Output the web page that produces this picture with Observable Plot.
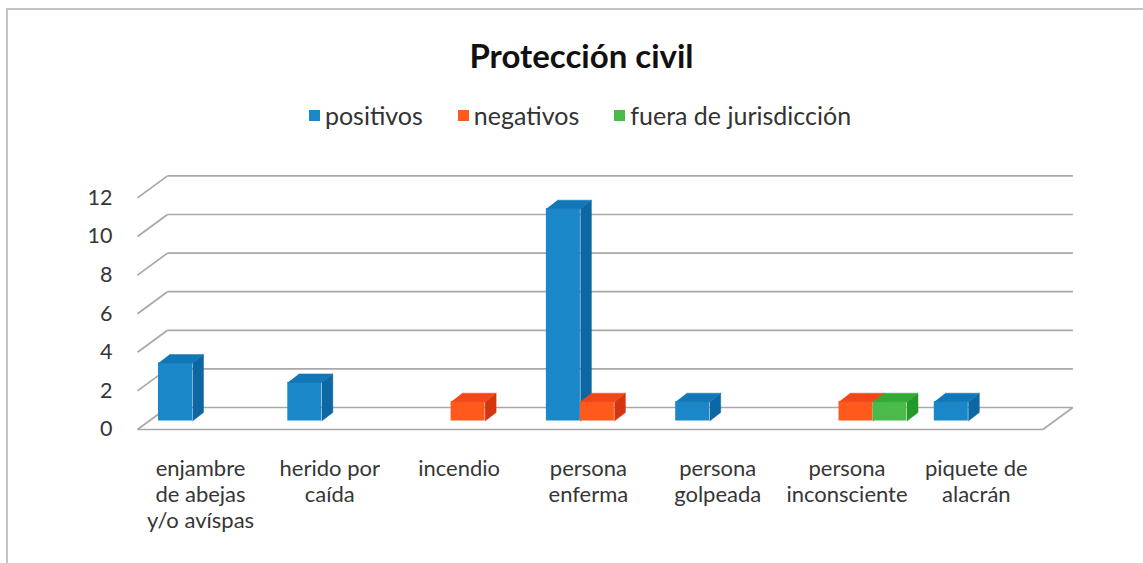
<!DOCTYPE html>
<html>
<head>
<meta charset="utf-8">
<script src="https://cdn.jsdelivr.net/npm/d3@7"></script>
<script src="https://cdn.jsdelivr.net/npm/@observablehq/plot@0.6"></script>
<style>
  html, body { margin: 0; padding: 0; background: #fff; }
  #wrap { position: relative; width: 1143px; height: 563px; overflow: hidden; background: #fff; font-family: Lato, "Open Sans", sans-serif; }
  #frame { position: absolute; left: 6px; top: 8px; width: 1200px; height: 600px; border-left: 2px solid #c4c4c4; border-top: 2px solid #c4c4c4; }
  #title { position: absolute; left: 0; width: 1163px; top: 33px; text-align: center; font-size: 33px; font-weight: bold; color: #111; line-height: 44px; }
  #legend { position: absolute; left: 0; width: 1160px; top: 100px; display: flex; justify-content: center; gap: 35px; font-size: 25px; color: #333; line-height: 30px; }
  #legend .item { display: flex; align-items: center; gap: 5px; }
  #legend .sw { width: 11px; height: 11px; display: inline-block; }
  #chart { position: absolute; left: 0; top: 150px; }
</style>
</head>
<body>
<div id="wrap">
  <div id="frame"></div>
  <div id="title">Protección civil</div>
  <div id="legend"></div>
  <div id="chart"></div>
</div>
<script>
// ---- data ----
const categories = ["enjambre\nde abejas\ny/o avíspas", "herido por\ncaída", "incendio", "persona\nenferma", "persona\ngolpeada", "persona\ninconsciente", "piquete de\nalacrán"];
const seriesNames = ["positivos", "negativos", "fuera de jurisdicción"];
const positivos = [3, 2, 0, 11, 1, 0, 1];
const negativos = [0, 0, 1, 1, 0, 1, 0];
const fueraDeJurisdiccion = [0, 0, 0, 0, 0, 1, 0];
const yTicks = [0, 2, 4, 6, 8, 10, 12];

// ---- styles ----
const faceColors = [
  {front: "#1a87c9", side: "#0c67a2", top: "#1277b6"},
  {front: "#ff5a1c", side: "#d5350f", top: "#f2461a"},
  {front: "#4aba4a", side: "#23992a", top: "#33aa36"}
];
const gridColor = "#a8a8a8";
const textColor = "#363636";

// legend
const legend = document.getElementById("legend");
seriesNames.forEach((s, i) => {
  const it = document.createElement("div");
  it.className = "item";
  it.innerHTML = `<span class="sw" style="background:${faceColors[i].front}"></span><span>${s}</span>`;
  legend.appendChild(it);
});

// ---- layout (pixels) ----
const W = 1143, H = 413;
const pxPerGroup = 129.3, pxPerUnit = 19.3;
const barPx = 34;
const marginLeft = 148.6, marginRight = 89;
const firstBarPx = 158;
const marginTop = 38.9, marginBottom = 142.5;
const xmin = (marginLeft - firstBarPx) / pxPerGroup;
const xmax = (W - marginRight - firstBarPx) / pxPerGroup;
const ux = px => px / pxPerGroup;
const uy = px => px / pxPerUnit;
const bw = ux(barPx);
const depthX = ux(11), depthY = uy(8.5);
const back = {x: ux(18.4), y: uy(13.5)};
const front = {x: ux(-11.6), y: uy(-8.5)};

const valuesBySeries = [positivos, negativos, fueraDeJurisdiccion];

// grid / walls
const backLines = yTicks.map(t => ({x1: xmin + back.x, y1: t + back.y, x2: xmax + back.x, y2: t + back.y}));
const sideLines = yTicks.map(t => ({x1: xmin + front.x, y1: t + front.y, x2: xmin + back.x, y2: t + back.y}));
const floorLines = [
  {x1: xmin + front.x, y1: front.y, x2: xmax + front.x, y2: front.y},
  {x1: xmax + front.x, y1: front.y, x2: xmax + back.x, y2: back.y}
];
const lineOpts = {x1: "x1", y1: "y1", x2: "x2", y2: "y2", stroke: gridColor, strokeWidth: 1.7};

const marks = [
  Plot.link(backLines, lineOpts),
  Plot.link(sideLines, lineOpts),
  Plot.link(floorLines, lineOpts)
];

valuesBySeries.forEach((vals, si) => {
  const rows = [];
  vals.forEach((v, gi) => { if (v > 0) rows.push({gi, v, x1: gi + si * bw}); });
  const c = faceColors[si];
  const side = rows.flatMap((d, k) => {
    const x2 = d.x1 + bw;
    return [
      {id: k, x: x2, y: 0},
      {id: k, x: x2 + depthX, y: depthY},
      {id: k, x: x2 + depthX, y: d.v + depthY},
      {id: k, x: x2, y: d.v}
    ];
  });
  const top = rows.flatMap((d, k) => {
    const x2 = d.x1 + bw;
    return [
      {id: k, x: d.x1, y: d.v},
      {id: k, x: x2, y: d.v},
      {id: k, x: x2 + depthX, y: d.v + depthY},
      {id: k, x: d.x1 + depthX, y: d.v + depthY}
    ];
  });
  marks.push(
    Plot.rect(rows, {x1: "x1", x2: d => d.x1 + bw, y1: 0, y2: "v", fill: c.front}),
    Plot.line(side, {x: "x", y: "y", z: "id", fill: c.side, stroke: c.side, strokeWidth: 0.5}),
    Plot.line(top, {x: "x", y: "y", z: "id", fill: c.top, stroke: c.top, strokeWidth: 0.5})
  );
});

// axis labels
marks.push(
  Plot.text(yTicks, {x: xmin, y: d => d, text: d => String(d), textAnchor: "end", dx: 112 - marginLeft, dy: 8.5, fontSize: 21.5, fill: textColor}),
  Plot.text(categories, {x: (d, i) => i + 1.5 * bw, y: 0, text: d => d, lineAnchor: "top", dy: 36, dx: -9, lineHeight: 1.19, fontSize: 22, fill: textColor})
);

const chart = Plot.plot({
  width: W, height: H,
  marginLeft, marginRight, marginTop, marginBottom,
  x: {type: "linear", domain: [xmin, xmax], axis: null},
  y: {type: "linear", domain: [0, 12], axis: null},
  style: {fontFamily: "Lato, 'Open Sans', sans-serif", background: "transparent", overflow: "visible"},
  marks
});
document.getElementById("chart").appendChild(chart);
</script>
</body>
</html>
